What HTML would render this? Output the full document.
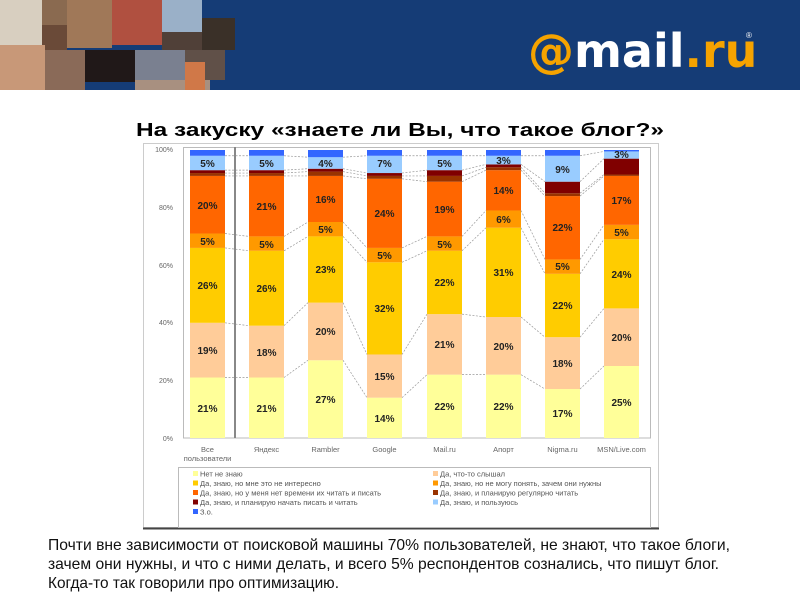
<!DOCTYPE html>
<html><head><meta charset="utf-8"><style>html,body{margin:0;padding:0;background:#fff}svg{display:block}</style></head>
<body>
<svg width="800" height="600" xmlns="http://www.w3.org/2000/svg" font-family="Liberation Sans, sans-serif">
<rect width="800" height="600" fill="#fff"/>
<rect x="0" y="0" width="800" height="90" fill="#153c76"/>
<g>
<rect x="0" y="0" width="42" height="45" fill="#d8cfc0"/>
<rect x="42" y="0" width="25" height="25" fill="#8a6a50"/>
<rect x="42" y="25" width="25" height="25" fill="#6a4a38"/>
<rect x="67" y="0" width="45" height="48" fill="#a07858"/>
<rect x="112" y="0" width="50" height="45" fill="#b05040"/>
<rect x="162" y="0" width="40" height="32" fill="#9ab0c8"/>
<rect x="162" y="32" width="40" height="18" fill="#504038"/>
<rect x="202" y="18" width="33" height="32" fill="#3a3028"/>
<rect x="0" y="45" width="45" height="45" fill="#c89878"/>
<rect x="45" y="50" width="40" height="40" fill="#8a6a58"/>
<rect x="85" y="50" width="50" height="32" fill="#201818"/>
<rect x="135" y="50" width="50" height="30" fill="#7a8090"/>
<rect x="185" y="50" width="40" height="30" fill="#605048"/>
<rect x="135" y="80" width="75" height="10" fill="#a89080"/>
<rect x="185" y="62" width="20" height="28" fill="#d07848"/>
</g>
<text x="528" y="67" font-size="46" font-weight="bold" fill="#f5a300" font-family="DejaVu Sans, sans-serif">@<tspan fill="#fff">mail</tspan>.ru</text>
<text x="746" y="38" font-size="8" fill="#fff">®</text>
<text x="400" y="136" font-size="18" font-weight="bold" text-anchor="middle" textLength="528" lengthAdjust="spacingAndGlyphs">На закуску «знаете ли Вы, что такое блог?»</text>
<rect x="143.5" y="143.5" width="515" height="384" fill="#fff" stroke="#ccc"/>
<line x1="143" y1="528.5" x2="659" y2="528.5" stroke="#444" stroke-width="2"/>
<rect x="183.5" y="147.5" width="467" height="290.5" fill="#fff" stroke="#bbb"/>
<g font-size="7" fill="#666" text-anchor="end">
<text x="173" y="152">100%</text><text x="173" y="210">80%</text><text x="173" y="268">60%</text><text x="173" y="325">40%</text><text x="173" y="383">20%</text><text x="173" y="441">0%</text>
</g>
<g transform="translate(0,438) scale(1,-2.88)">
<g stroke="none">
<rect x="190" y="0" width="35" height="21" fill="#ffff99"/><rect x="190" y="21" width="35" height="19" fill="#ffcc99"/><rect x="190" y="40" width="35" height="26" fill="#ffcc00"/><rect x="190" y="66" width="35" height="5" fill="#ff9900"/><rect x="190" y="71" width="35" height="20" fill="#ff6600"/><rect x="190" y="91" width="35" height="1" fill="#993300"/><rect x="190" y="92" width="35" height="1" fill="#800000"/><rect x="190" y="93" width="35" height="5" fill="#99ccff"/><rect x="190" y="98" width="35" height="2" fill="#3366ff"/>
<rect x="249" y="0" width="35" height="21" fill="#ffff99"/><rect x="249" y="21" width="35" height="18" fill="#ffcc99"/><rect x="249" y="39" width="35" height="26" fill="#ffcc00"/><rect x="249" y="65" width="35" height="5" fill="#ff9900"/><rect x="249" y="70" width="35" height="21" fill="#ff6600"/><rect x="249" y="91" width="35" height="1" fill="#993300"/><rect x="249" y="92" width="35" height="1" fill="#800000"/><rect x="249" y="93" width="35" height="5" fill="#99ccff"/><rect x="249" y="98" width="35" height="2" fill="#3366ff"/>
<rect x="308" y="0" width="35" height="27" fill="#ffff99"/><rect x="308" y="27" width="35" height="20" fill="#ffcc99"/><rect x="308" y="47" width="35" height="23" fill="#ffcc00"/><rect x="308" y="70" width="35" height="5" fill="#ff9900"/><rect x="308" y="75" width="35" height="16" fill="#ff6600"/><rect x="308" y="91" width="35" height="1.5" fill="#993300"/><rect x="308" y="92.5" width="35" height="1" fill="#800000"/><rect x="308" y="93.5" width="35" height="4" fill="#99ccff"/><rect x="308" y="97.5" width="35" height="2.5" fill="#3366ff"/>
<rect x="367" y="0" width="35" height="14" fill="#ffff99"/><rect x="367" y="14" width="35" height="15" fill="#ffcc99"/><rect x="367" y="29" width="35" height="32" fill="#ffcc00"/><rect x="367" y="61" width="35" height="5" fill="#ff9900"/><rect x="367" y="66" width="35" height="24" fill="#ff6600"/><rect x="367" y="90" width="35" height="1" fill="#993300"/><rect x="367" y="91" width="35" height="1" fill="#800000"/><rect x="367" y="92" width="35" height="6" fill="#99ccff"/><rect x="367" y="98" width="35" height="2" fill="#3366ff"/>
<rect x="427" y="0" width="35" height="22" fill="#ffff99"/><rect x="427" y="22" width="35" height="21" fill="#ffcc99"/><rect x="427" y="43" width="35" height="22" fill="#ffcc00"/><rect x="427" y="65" width="35" height="5" fill="#ff9900"/><rect x="427" y="70" width="35" height="19" fill="#ff6600"/><rect x="427" y="89" width="35" height="2" fill="#993300"/><rect x="427" y="91" width="35" height="2" fill="#800000"/><rect x="427" y="93" width="35" height="5" fill="#99ccff"/><rect x="427" y="98" width="35" height="2" fill="#3366ff"/>
<rect x="486" y="0" width="35" height="22" fill="#ffff99"/><rect x="486" y="22" width="35" height="20" fill="#ffcc99"/><rect x="486" y="42" width="35" height="31" fill="#ffcc00"/><rect x="486" y="73" width="35" height="6" fill="#ff9900"/><rect x="486" y="79" width="35" height="14" fill="#ff6600"/><rect x="486" y="93" width="35" height="1" fill="#993300"/><rect x="486" y="94" width="35" height="1" fill="#800000"/><rect x="486" y="95" width="35" height="3" fill="#99ccff"/><rect x="486" y="98" width="35" height="2" fill="#3366ff"/>
<rect x="545" y="0" width="35" height="17" fill="#ffff99"/><rect x="545" y="17" width="35" height="18" fill="#ffcc99"/><rect x="545" y="35" width="35" height="22" fill="#ffcc00"/><rect x="545" y="57" width="35" height="5" fill="#ff9900"/><rect x="545" y="62" width="35" height="22" fill="#ff6600"/><rect x="545" y="84" width="35" height="1" fill="#993300"/><rect x="545" y="85" width="35" height="4" fill="#800000"/><rect x="545" y="89" width="35" height="9" fill="#99ccff"/><rect x="545" y="98" width="35" height="2" fill="#3366ff"/>
<rect x="604" y="0" width="35" height="25" fill="#ffff99"/><rect x="604" y="25" width="35" height="20" fill="#ffcc99"/><rect x="604" y="45" width="35" height="24" fill="#ffcc00"/><rect x="604" y="69" width="35" height="5" fill="#ff9900"/><rect x="604" y="74" width="35" height="17" fill="#ff6600"/><rect x="604" y="91" width="35" height="0.5" fill="#993300"/><rect x="604" y="91.5" width="35" height="5.5" fill="#800000"/><rect x="604" y="97" width="35" height="2.5" fill="#99ccff"/><rect x="604" y="99.5" width="35" height="0.5" fill="#3366ff"/>
</g>
<g stroke="#999" stroke-width="0.7" stroke-dasharray="2,1.5" fill="none">
<path vector-effect="non-scaling-stroke" d="M225 21L249 21M225 40L249 39M225 66L249 65M225 71L249 70M225 91L249 91M225 92L249 92M225 93L249 93M225 98L249 98"/>
<path vector-effect="non-scaling-stroke" d="M284 21L308 27M284 39L308 47M284 65L308 70M284 70L308 75M284 91L308 91M284 92L308 92.5M284 93L308 93.5M284 98L308 97.5"/>
<path vector-effect="non-scaling-stroke" d="M343 27L367 14M343 47L367 29M343 70L367 61M343 75L367 66M343 91L367 90M343 92.5L367 91M343 93.5L367 92M343 97.5L367 98"/>
<path vector-effect="non-scaling-stroke" d="M402 14L427 22M402 29L427 43M402 61L427 65M402 66L427 70M402 90L427 89M402 91L427 91M402 92L427 93M402 98L427 98"/>
<path vector-effect="non-scaling-stroke" d="M462 22L486 22M462 43L486 42M462 65L486 73M462 70L486 79M462 89L486 93M462 91L486 94M462 93L486 95M462 98L486 98"/>
<path vector-effect="non-scaling-stroke" d="M521 22L545 17M521 42L545 35M521 73L545 57M521 79L545 62M521 93L545 84M521 94L545 85M521 95L545 89M521 98L545 98"/>
<path vector-effect="non-scaling-stroke" d="M580 17L604 25M580 35L604 45M580 57L604 69M580 62L604 74M580 84L604 91M580 85L604 91.5M580 89L604 97M580 98L604 99.5"/>
</g>
</g>
<rect x="234" y="147" width="2" height="291" fill="#888"/>
<g font-size="10" font-weight="bold" fill="#222" text-anchor="middle">
<text x="207.5" y="412">21%</text><text x="207.5" y="354">19%</text><text x="207.5" y="289">26%</text><text x="207.5" y="245">5%</text><text x="207.5" y="209">20%</text><text x="207.5" y="167">5%</text>
<text x="266.5" y="412">21%</text><text x="266.5" y="356">18%</text><text x="266.5" y="292">26%</text><text x="266.5" y="248">5%</text><text x="266.5" y="210">21%</text><text x="266.5" y="167">5%</text>
<text x="325.5" y="403">27%</text><text x="325.5" y="335">20%</text><text x="325.5" y="273">23%</text><text x="325.5" y="233">5%</text><text x="325.5" y="203">16%</text><text x="325.5" y="167">4%</text>
<text x="384.5" y="422">14%</text><text x="384.5" y="380">15%</text><text x="384.5" y="312">32%</text><text x="384.5" y="259">5%</text><text x="384.5" y="217">24%</text><text x="384.5" y="167">7%</text>
<text x="444.5" y="410">22%</text><text x="444.5" y="348">21%</text><text x="444.5" y="286">22%</text><text x="444.5" y="248">5%</text><text x="444.5" y="213">19%</text><text x="444.5" y="167">5%</text>
<text x="503.5" y="410">22%</text><text x="503.5" y="350">20%</text><text x="503.5" y="276">31%</text><text x="503.5" y="223">6%</text><text x="503.5" y="194">14%</text><text x="503.5" y="164">3%</text>
<text x="562.5" y="417">17%</text><text x="562.5" y="367">18%</text><text x="562.5" y="309">22%</text><text x="562.5" y="270">5%</text><text x="562.5" y="231">22%</text><text x="562.5" y="173">9%</text>
<text x="621.5" y="406">25%</text><text x="621.5" y="341">20%</text><text x="621.5" y="278">24%</text><text x="621.5" y="236">5%</text><text x="621.5" y="204">17%</text><text x="621.5" y="158">3%</text>
</g>
<g font-size="7.5" fill="#666" text-anchor="middle">
<text x="207.5" y="452">Все</text><text x="207.5" y="461">пользователи</text>
<text x="266.5" y="452">Яндекс</text><text x="325.5" y="452">Rambler</text><text x="384.5" y="452">Google</text><text x="444.5" y="452">Mail.ru</text><text x="503.5" y="452">Апорт</text><text x="562.5" y="452">Nigma.ru</text><text x="621.5" y="452">MSN/Live.com</text>
</g>
<rect x="178.5" y="467.5" width="472" height="60" fill="#fff" stroke="#bbb"/>
<g font-size="7.5" fill="#555">
<rect x="193" y="471" width="5" height="5" fill="#ffff99"/><text x="200" y="476.5">Нет не знаю</text>
<rect x="193" y="480.5" width="5" height="5" fill="#ffcc00"/><text x="200" y="486">Да, знаю, но мне это не интересно</text>
<rect x="193" y="490" width="5" height="5" fill="#ff6600"/><text x="200" y="495.5">Да, знаю, но у меня нет времени их читать и писать</text>
<rect x="193" y="499.5" width="5" height="5" fill="#800000"/><text x="200" y="505">Да, знаю, и планирую начать писать и читать</text>
<rect x="193" y="509" width="5" height="5" fill="#3366ff"/><text x="200" y="514.5">З.о.</text>
<rect x="433" y="471" width="5" height="5" fill="#ffcc99"/><text x="440" y="476.5">Да, что-то слышал</text>
<rect x="433" y="480.5" width="5" height="5" fill="#ff9900"/><text x="440" y="486">Да, знаю, но не могу понять, зачем они нужны</text>
<rect x="433" y="490" width="5" height="5" fill="#993300"/><text x="440" y="495.5">Да, знаю, и планирую регулярно читать</text>
<rect x="433" y="499.5" width="5" height="5" fill="#99ccff"/><text x="440" y="505">Да, знаю, и пользуюсь</text>
</g>
<g font-size="16" fill="#111">
<text x="48" y="550" textLength="682" lengthAdjust="spacingAndGlyphs">Почти вне зависимости от поисковой машины 70% пользователей, не знают, что такое блоги,</text>
<text x="48" y="569" textLength="671" lengthAdjust="spacingAndGlyphs">зачем они нужны, и что с ними делать, и всего 5% респондентов сознались, что пишут блог.</text>
<text x="48" y="588" textLength="291" lengthAdjust="spacingAndGlyphs">Когда-то так говорили про оптимизацию.</text>
</g>
</svg>
</body></html>
